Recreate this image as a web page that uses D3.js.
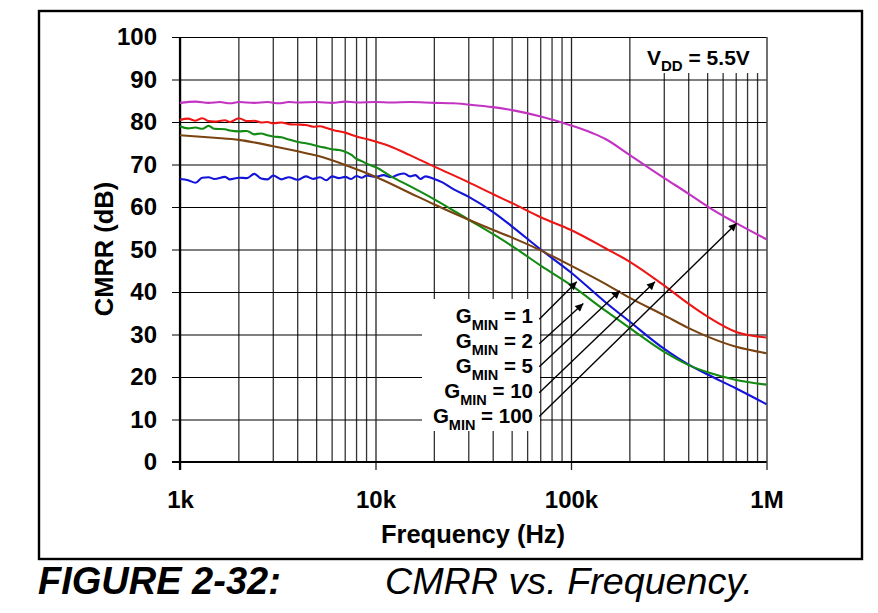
<!DOCTYPE html>
<html><head><meta charset="utf-8">
<script src="https://cdn.jsdelivr.net/npm/d3@7"></script>
<style>
body{margin:0;background:#fff;}
svg text{font-family:"Liberation Sans",Arial,Helvetica,sans-serif;}
</style>
</head><body>
<svg id="chart" width="878" height="613"></svg>
<script>
// ---------- data ----------
const yTicks = [0,10,20,30,40,50,60,70,80,90,100];
const xTickValues = [1e3,1e4,1e5,1e6];
const xTickLabels = ["1k","10k","100k","1M"];

const gmin1 = [[1000,66.6],[1100,66.3],[1200,65.7],[1300,66.9],[1400,67.0],[1500,66.6],[1700,67.1],[1800,66.5],[2000,66.9],[2200,66.8],[2400,67.8],[2600,66.7],[2800,66.5],[3000,67.4],[3300,66.5],[3600,67.0],[4000,66.4],[4400,67.2],[4800,66.6],[5200,67.0],[5600,66.3],[6000,67.2],[6500,66.8],[7000,67.1],[7500,66.6],[8000,67.3],[8500,66.9],[9000,67.4],[10000,67.1],[11000,67.5],[12000,67.0],[13000,67.6],[14000,67.9],[15000,67.2],[16000,67.5],[17000,66.6],[18000,67.2],[20000,66.6],[22000,65.8],[25000,64.2],[30000,62.4],[40000,58.8],[50000,55.4],[70000,50.0],[100000,44.6],[150000,37.6],[200000,33.0],[300000,26.6],[400000,22.9],[500000,20.6],[700000,17.3],[1000000,13.6]];

const gmin2 = [[1000,79.0],[1100,78.5],[1200,78.7],[1300,78.4],[1400,79.1],[1500,78.4],[1700,78.3],[1800,78.0],[2000,77.8],[2200,77.9],[2400,77.1],[2600,77.3],[2800,76.9],[3000,76.6],[3300,76.4],[3600,75.9],[4000,75.3],[4400,75.0],[4800,74.6],[5200,74.2],[5600,73.9],[6000,73.6],[6500,73.4],[7000,73.0],[7500,72.3],[8000,71.3],[8500,70.8],[9000,70.2],[10000,69.4],[12000,67.2],[15000,64.9],[20000,61.8],[30000,57.0],[40000,53.6],[50000,50.8],[70000,46.2],[100000,41.6],[150000,35.6],[200000,31.5],[300000,25.9],[400000,22.8],[500000,21.1],[700000,19.3],[1000000,18.2]];

const gmin5 = [[1000,76.9],[1500,76.3],[2000,75.8],[3000,74.3],[4000,73.1],[5000,72.1],[7000,69.9],[10000,67.1],[15000,63.3],[20000,60.6],[30000,57.0],[40000,54.6],[50000,52.8],[70000,49.8],[100000,46.2],[150000,41.9],[200000,38.6],[300000,34.5],[400000,31.5],[500000,29.5],[700000,27.1],[1000000,25.6]];

const gmin10 = [[1000,80.5],[1100,80.8],[1200,80.3],[1300,80.9],[1400,80.2],[1500,80.1],[1700,80.4],[1800,80.0],[2000,80.9],[2200,80.2],[2400,80.3],[2600,79.9],[2800,80.0],[3000,79.7],[3300,79.9],[3600,79.5],[4000,79.4],[4400,79.3],[4800,78.9],[5200,79.0],[5600,78.6],[6000,78.2],[6500,77.8],[7000,77.5],[7500,77.0],[8000,76.6],[9000,76.0],[10000,75.4],[12000,74.2],[15000,72.2],[20000,69.5],[30000,65.8],[40000,63.0],[50000,60.9],[70000,57.6],[100000,54.6],[150000,50.3],[200000,47.1],[300000,41.5],[400000,37.2],[500000,34.2],[700000,30.6],[1000000,29.3]];

const gmin100 = [[1000,84.5],[1200,84.8],[1400,84.5],[1600,84.7],[1800,84.4],[2000,84.7],[2400,84.5],[2800,84.7],[3200,84.4],[3600,84.7],[4000,84.6],[5000,84.7],[6000,84.5],[7000,84.8],[8000,84.6],[10000,84.7],[12000,84.6],[15000,84.7],[20000,84.5],[25000,84.4],[30000,84.1],[40000,83.5],[50000,82.8],[70000,81.3],[100000,79.2],[130000,77.3],[150000,76.0],[200000,72.2],[300000,66.8],[400000,63.1],[500000,60.1],[700000,56.2],[1000000,52.4]];

const seriesNames = ["1","2","5","10","100"];
const seriesData = [gmin1, gmin2, gmin5, gmin10, gmin100];
const seriesColors = ["#1414d8","#138a13","#7a4312","#ee1515","#c233c2"];
// arrow tip (on curve) and tail (at label) in data units
const arrowTips = [[107000,42.4],[115600,37.3],[178000,40.3],[269000,42.4],[704000,56.2]];
const arrowTails = [[68800,33.6],[68800,27.8],[68800,22.4],[68800,16.3],[68800,10.7]];

// ---------- layout ----------
const svg = d3.select("#chart");
const x = d3.scaleLog().domain([1e3,1e6]).range([180,766.5]);
const y = d3.scaleLinear().domain([0,100]).range([462,37]);

// outer frame
svg.append("rect").attr("x",39).attr("y",11).attr("width",823).attr("height",548)
  .attr("fill","none").attr("stroke","#000").attr("stroke-width",2.4);

// minor vertical grid
const minor = x.ticks().filter(v => xTickValues.indexOf(v) < 0);
svg.append("g").selectAll("line").data(minor).join("line")
  .attr("x1",d=>x(d)).attr("x2",d=>x(d)).attr("y1",y(0)).attr("y2",y(100))
  .attr("stroke","#333").attr("stroke-width",1.3);

// y axis with gridlines
const yAxis = d3.axisLeft(y).tickValues(yTicks).tickSize(-(766.5-172)).tickSizeOuter(0).tickPadding(15);
const gy = svg.append("g").attr("transform","translate(172,0)").call(yAxis);
gy.select(".domain").remove();
gy.selectAll(".tick line").attr("stroke","#000").attr("stroke-width",1.1);
gy.selectAll(".tick text").attr("font-size",24).attr("font-weight","bold").attr("fill","#000");

// x axis with major gridlines
const xAxis = d3.axisBottom(x).tickValues(xTickValues).tickFormat((d,i)=>xTickLabels[i])
  .tickSize(-(470-37)).tickSizeOuter(0).tickPadding(21);
const gx = svg.append("g").attr("transform","translate(0,470)").call(xAxis);
gx.select(".domain").remove();
gx.selectAll(".tick line").attr("stroke","#222").attr("stroke-width",1.3);
gx.selectAll(".tick text").attr("font-size",24).attr("font-weight","bold").attr("fill","#000");

// axis lines
svg.append("line").attr("x1",x(1e3)).attr("x2",x(1e3)).attr("y1",y(100)).attr("y2",470)
  .attr("stroke","#000").attr("stroke-width",2.2);
svg.append("line").attr("x1",172).attr("x2",x(1e6)).attr("y1",y(0)).attr("y2",y(0))
  .attr("stroke","#000").attr("stroke-width",2.2);

// white boxes behind labels
svg.append("rect").attr("x",640).attr("y",38).attr("width",120).attr("height",35).attr("fill","#fff");
svg.append("rect").attr("x",422).attr("y",299).attr("width",118).attr("height",132).attr("fill","#fff");

// curves
const line = d3.line().x(d=>x(d[0])).y(d=>y(d[1])).curve(d3.curveMonotoneX);
svg.append("g").selectAll("path").data(seriesData).join("path")
  .attr("d",line).attr("fill","none")
  .attr("stroke",(d,i)=>seriesColors[i]).attr("stroke-width",2.1)
  .attr("stroke-linejoin","round");

// arrows
const defs = svg.append("defs");
defs.append("marker").attr("id","ah").attr("viewBox","0 0 10 10").attr("refX",10).attr("refY",5)
  .attr("markerWidth",11).attr("markerHeight",8).attr("markerUnits","userSpaceOnUse").attr("orient","auto")
  .append("path").attr("d","M0,0 L10,5 L0,10 Z").attr("fill","#000");
svg.append("g").selectAll("line").data(arrowTips).join("line")
  .attr("x1",(d,i)=>x(arrowTails[i][0])).attr("y1",(d,i)=>y(arrowTails[i][1]))
  .attr("x2",d=>x(d[0])).attr("y2",d=>y(d[1]))
  .attr("stroke","#000").attr("stroke-width",1.4).attr("marker-end","url(#ah)");

// legend labels
const lab = svg.append("g");
seriesNames.forEach((n,i)=>{
  const t = lab.append("text").attr("x",533).attr("y",322.5+i*25.2)
    .attr("text-anchor","end").attr("font-size",20.5).attr("font-weight","bold").attr("fill","#000");
  t.append("tspan").text("G");
  t.append("tspan").attr("font-size",14.5).attr("dy",7).text("MIN");
  t.append("tspan").attr("dy",-7).text(" = " + n);
});

// VDD label
const v = svg.append("text").attr("x",647).attr("y",65).attr("font-size",21).attr("font-weight","bold").attr("fill","#000");
v.append("tspan").text("V");
v.append("tspan").attr("font-size",15).attr("dy",6).text("DD");
v.append("tspan").attr("dy",-6).text(" = 5.5V");

// axis titles
svg.append("text").attr("x",473).attr("y",543).attr("text-anchor","middle")
  .attr("font-size",25.5).attr("font-weight","bold").text("Frequency (Hz)");
svg.append("text").attr("transform","translate(113,249) rotate(-90)").attr("text-anchor","middle")
  .attr("font-size",25.5).attr("font-weight","bold").text("CMRR (dB)");

// caption
svg.append("text").attr("x",38).attr("y",594).attr("font-size",38).attr("font-weight","bold")
  .attr("font-style","italic").text("FIGURE 2-32:");
svg.append("text").attr("x",385).attr("y",594).attr("font-size",37.7)
  .attr("font-style","italic").text("CMRR vs. Frequency.");
</script>
</body></html>
